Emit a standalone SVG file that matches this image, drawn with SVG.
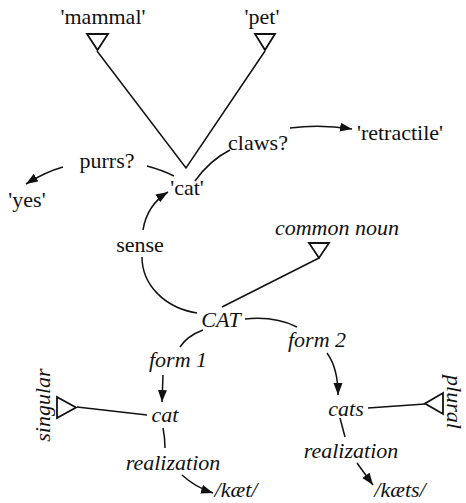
<svg xmlns="http://www.w3.org/2000/svg" width="466" height="503" viewBox="0 0 466 503">
<defs>
<marker id="ah" markerUnits="userSpaceOnUse" markerWidth="14" markerHeight="10" refX="12" refY="4.5" orient="auto">
<path d="M0,0 L12,4.5 L0,9 z" fill="#111"/>
</marker>
<style>
text{font-family:"Liberation Serif","Times New Roman",serif;font-size:22px;fill:#111;text-anchor:middle}
.i{font-style:italic}
.ln{fill:none;stroke:#111;stroke-width:1.5}
.ar{fill:none;stroke:#111;stroke-width:1.5;marker-end:url(#ah)}
.tri{fill:#fff;stroke:#111;stroke-width:1.8;stroke-linejoin:miter}
</style>
</defs>
<rect width="466" height="503" fill="#fff"/>
<g id="connectors">
<path class="ln" d="M97,51 L186,168 L265,51"/>
<path class="ar" d="M63,167 Q45,172 26,184"/>
<path class="ln" d="M147,166 Q162,170 174,176"/>
<path class="ln" d="M195,181 Q210,160 230,150"/>
<path class="ar" d="M290,128 Q320,124 352,129"/>
<path class="ar" d="M143,230 Q147,205 168,192"/>
<path class="ln" d="M142,257 C142,285 165,308 197,313"/>
<path class="ln" d="M319,258 L222,307"/>
<path class="ln" d="M245,319 Q275,316 297,327"/>
<path class="ar" d="M327,353 Q338,368 338,395"/>
<path class="ln" d="M203,330 Q187,336 180,347"/>
<path class="ar" d="M163,375 L162,402"/>
<path class="ln" d="M77,407 L147,415"/>
<path class="ln" d="M163,428 Q165,438 165,448"/>
<path class="ar" d="M182,475 Q195,487 213,493"/>
<path class="ln" d="M368,408 L425,404"/>
<path class="ln" d="M340,418 L345,437"/>
<path class="ar" d="M357,463 L373,485"/>
</g>
<g id="mammal"><text x="103" y="24">'mammal'</text><polygon class="tri" points="87,34 108,34 97.5,50"/></g>
<g id="pet"><text x="262" y="24">'pet'</text><polygon class="tri" points="255,34 275,34 265,50"/></g>
<g id="retractile"><text x="400" y="140">'retractile'</text></g>
<g id="claws"><text x="258" y="150">claws?</text></g>
<g id="purrs"><text x="107" y="168">purrs?</text></g>
<g id="yes"><text x="27" y="207">'yes'</text></g>
<g id="cat-sense"><text x="187" y="195">'cat'</text></g>
<g id="sense"><text x="140" y="252">sense</text></g>
<g id="common-noun"><text class="i" x="337" y="235">common noun</text><polygon class="tri" points="309,243 329,243 319,258"/></g>
<g id="CAT"><text class="i" x="221" y="327">CAT</text></g>
<g id="form1"><text class="i" x="178" y="367">form 1</text></g>
<g id="form2"><text class="i" x="317" y="347">form 2</text></g>
<g id="cat"><text class="i" x="165" y="422">cat</text></g>
<g id="cats"><text class="i" x="346" y="416">cats</text></g>
<g id="singular"><text class="i" x="50" y="405" transform="rotate(-90 50 405)">singular</text><polygon class="tri" points="57,397 57,418 76,407.5"/></g>
<g id="plural"><text class="i" x="447" y="402" transform="rotate(90 447 402)">plural</text><polygon class="tri" points="443,393 443,414 425,403.5"/></g>
<g id="realization1"><text class="i" x="173" y="470">realization</text></g>
<g id="realization2"><text class="i" x="351" y="458">realization</text></g>
<g id="kaet"><text class="i" x="236" y="497">/kæt/</text></g>
<g id="kaets"><text class="i" x="400" y="497">/kæts/</text></g>
</svg>
